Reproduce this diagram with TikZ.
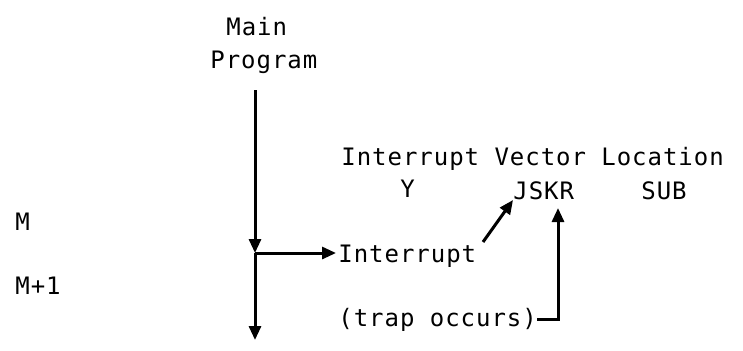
\documentclass[tikz,border=0pt]{standalone}
\usepackage{fontspec}
\setmonofont[LetterSpace=4]{DejaVu Sans Mono}
\usetikzlibrary{arrows.meta,calc}
\tikzset{
  lbl/.style={inner sep=0pt, anchor=base west, font=\ttfamily\fontsize{12}{14}\selectfont},
  flow/.style={line width=1.5pt, -{Triangle[length=7pt,width=6pt]}},
}
\begin{document}
\begin{tikzpicture}[x=0.5pt,y=-0.5pt]
\useasboundingbox (0,0) rectangle (743,350);
% texts
\node[lbl] (main) at (226,35) {Main};
\node[lbl] (prog) at (210,68) {Program};
\node[lbl] (hdr) at (341,165) {Interrupt Vector Location};
\node[lbl] (y) at (400,197) {Y};
\node[lbl] (jskr) at (513,199) {JSKR};
\node[lbl] (sub) at (641,199) {SUB};
\node[lbl] (intr) at (338,262) {Interrupt};
\node[lbl] (trap) at (338,326) {(trap occurs)};
\node[lbl] (m) at (15,230) {M};
\node[lbl] (m1) at (15,294) {M+1};
% coordinates of the main flow line
\coordinate (top) at (255,90);
\coordinate (junc) at (255,253);
\coordinate (bot) at (255,340);
\coordinate (tail) at (483,242);
\coordinate (jtip) at ($(jskr.base west)+(0,1)$);
\coordinate (trapx) at ($(jskr.base west)+(45,9)$);
% connectors
\draw[flow] (top) -- (junc);
\draw[flow] (junc) -- (bot);
\draw[flow] (junc) -- ([xshift=-1]intr.west |- junc);
\draw[flow] (tail) -- (jtip);
\draw[flow] (trap.east) -- (trap.east -| trapx) -- (trapx);
\end{tikzpicture}
\end{document}
